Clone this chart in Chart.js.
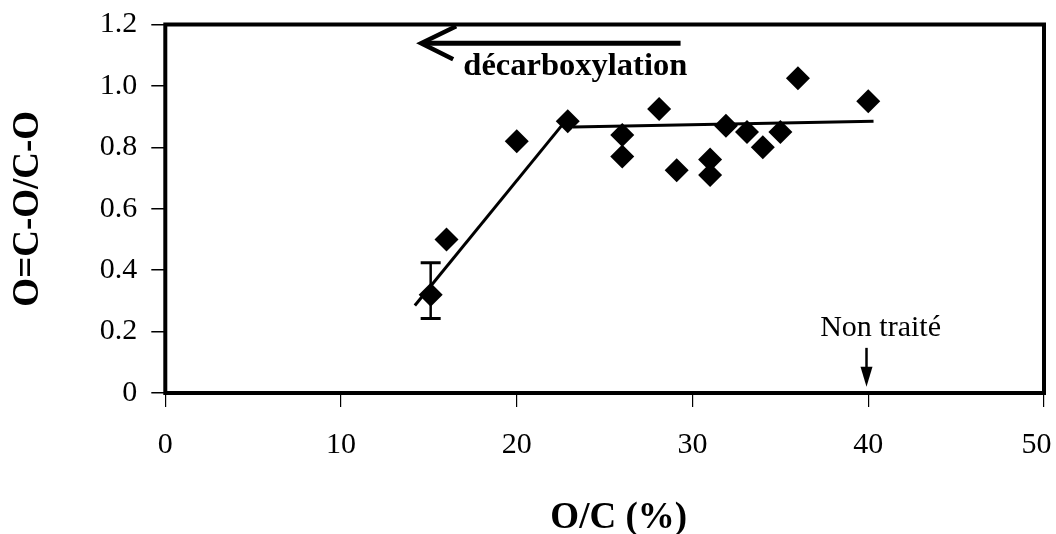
<!DOCTYPE html>
<html>
<head>
<meta charset="utf-8">
<script src="https://cdn.jsdelivr.net/npm/chart.js@4/dist/chart.umd.min.js"></script>
<style>
  html, body { margin: 0; padding: 0; background: #fff; }
  #wrap { width: 1056px; height: 534px; }
</style>
</head>
<body>
<div id="wrap"><canvas id="chart" width="1056" height="534"></canvas></div>
<script>
// Mesures O=C-O/C-O en fonction de O/C (%)
const ocValues = [15.1, 16, 20, 22.9, 26, 26, 28.1, 29.1, 31, 31, 31.9, 33.1, 34, 35, 36, 40];
const ratioValues = [0.32, 0.50, 0.82, 0.885, 0.84, 0.77, 0.925, 0.725, 0.76, 0.71, 0.87, 0.85, 0.80, 0.85, 1.025, 0.95];

// Droites de tendance (deux segments)
const fit1X = [14.2, 22.9];
const fit1Y = [0.285, 0.895];
const fit2X = [23.2, 40.3];
const fit2Y = [0.866, 0.885];

// Barre d'erreur sur le premier point : [x, bas, haut]
const errorBar = [15.1, 0.243, 0.424];

const xTicks = [0, 10, 20, 30, 40, 50];
// le dernier libellé est décalé à gauche pour rester dans la page
const xTickLabels = ['0', '10', '20', '30', '40', '50\u2007'];
const yTickLabels = ['0', '0.2', '0.4', '0.6', '0.8', '1.0', '1.2'];

const serif = "'Liberation Serif', 'Times New Roman', serif";

function toPoints(xs, ys) {
    return xs.map((x, i) => ({ x: x, y: ys[i] }));
}

// Cadre, barre d'erreur, titre X et annotations
const extras = {
    id: 'extras',
    afterDatasetsDraw(chart) {
        const { ctx, chartArea: a, scales: { x, y } } = chart;
        ctx.save();
        ctx.strokeStyle = '#000';
        ctx.fillStyle = '#000';

        // cadre du graphique
        ctx.lineWidth = 4;
        ctx.strokeRect(a.left, a.top, a.right - a.left, a.bottom - a.top);

        // barre d'erreur
        const ex = x.getPixelForValue(errorBar[0]);
        const lo = y.getPixelForValue(errorBar[1]);
        const hi = y.getPixelForValue(errorBar[2]);
        ctx.lineWidth = 2.5;
        ctx.beginPath();
        ctx.moveTo(ex, lo); ctx.lineTo(ex, hi);
        ctx.stroke();
        ctx.lineWidth = 3;
        ctx.beginPath();
        ctx.moveTo(ex - 10, lo); ctx.lineTo(ex + 10, lo);
        ctx.moveTo(ex - 10, hi); ctx.lineTo(ex + 10, hi);
        ctx.stroke();

        // flèche "décarboxylation"
        const tipX = x.getPixelForValue(14.56);
        const tipY = y.getPixelForValue(1.139);
        const endX = x.getPixelForValue(29.32);
        ctx.lineWidth = 5;
        ctx.beginPath();
        ctx.moveTo(tipX + 3, tipY); ctx.lineTo(endX, tipY);
        ctx.stroke();
        ctx.lineWidth = 4.5;
        ctx.lineJoin = 'miter';
        ctx.beginPath();
        ctx.moveTo(tipX + 35, tipY - 17);
        ctx.lineTo(tipX, tipY);
        ctx.lineTo(tipX + 32, tipY + 16);
        ctx.stroke();

        ctx.font = 'bold 32.5px ' + serif;
        ctx.textAlign = 'left';
        ctx.textBaseline = 'alphabetic';
        ctx.fillText('décarboxylation', x.getPixelForValue(16.96), y.getPixelForValue(1.035));

        // "Non traité"
        ctx.font = '30px ' + serif;
        ctx.textAlign = 'center';
        ctx.fillText('Non traité', x.getPixelForValue(40.7), y.getPixelForValue(0.186));
        const ax = x.getPixelForValue(39.9);
        const a0 = y.getPixelForValue(0.147);
        const a1 = y.getPixelForValue(0.02);
        ctx.lineWidth = 2.5;
        ctx.beginPath();
        ctx.moveTo(ax, a0); ctx.lineTo(ax, a1 - 14);
        ctx.stroke();
        ctx.beginPath();
        ctx.moveTo(ax - 6, a1 - 20);
        ctx.lineTo(ax + 6, a1 - 20);
        ctx.lineTo(ax, a1);
        ctx.closePath();
        ctx.fill();

        // titre de l'axe X
        ctx.font = 'bold 37px ' + serif;
        ctx.textAlign = 'center';
        ctx.textBaseline = 'middle';
        ctx.fillText('O/C (%)', x.getPixelForValue(25.8), 518);

        ctx.restore();
    }
};

new Chart(document.getElementById('chart').getContext('2d'), {
    type: 'scatter',
    data: {
        datasets: [
            {
                label: 'O=C-O/C-O',
                data: toPoints(ocValues, ratioValues),
                pointStyle: 'rectRot',
                pointRadius: 12,
                backgroundColor: '#000',
                borderColor: '#000',
                borderWidth: 0
            },
            {
                label: 'fit1',
                data: toPoints(fit1X, fit1Y),
                showLine: true,
                pointRadius: 0,
                borderColor: '#000',
                borderWidth: 3
            },
            {
                label: 'fit2',
                data: toPoints(fit2X, fit2Y),
                showLine: true,
                pointRadius: 0,
                borderColor: '#000',
                borderWidth: 3
            }
        ]
    },
    options: {
        responsive: false,
        animation: false,
        layout: { padding: { top: 24.5, right: 10, left: 0, bottom: 0 } },
        plugins: {
            legend: { display: false },
            tooltip: { enabled: false }
        },
        scales: {
            x: {
                type: 'linear',
                min: 0,
                max: 50,
                afterFit: (s) => { s.height = 141; s.paddingLeft = 0; s.paddingRight = 0; },
                afterBuildTicks: (s) => { s.ticks = xTicks.map(v => ({ value: v })); },
                grid: { drawOnChartArea: false, drawTicks: true, tickLength: 14, color: '#000', lineWidth: 1.2 },
                border: { display: false },
                ticks: {
                    color: '#000',
                    padding: 20,
                    maxRotation: 0,
                    font: { family: serif, size: 30 },
                    callback: (v, i) => xTickLabels[i]
                },
                title: { display: false }
            },
            y: {
                type: 'linear',
                min: 0,
                max: 1.2,
                afterFit: (s) => { s.width = 165.3; s.paddingTop = 0; s.paddingBottom = 0; },
                ticks: {
                    stepSize: 0.2,
                    color: '#000',
                    padding: 14,
                    font: { family: serif, size: 30 },
                    callback: (v, i) => yTickLabels[i]
                },
                grid: { drawOnChartArea: false, drawTicks: true, tickLength: 14, color: '#000', lineWidth: 1.5 },
                border: { display: false },
                title: {
                    display: true,
                    text: 'O=C-O/C-O',
                    color: '#000',
                    padding: { top: 10, bottom: 0 },
                    font: { family: serif, size: 37, weight: 'bold', lineHeight: 1 }
                }
            }
        }
    },
    plugins: [extras]
});
</script>
</body>
</html>
